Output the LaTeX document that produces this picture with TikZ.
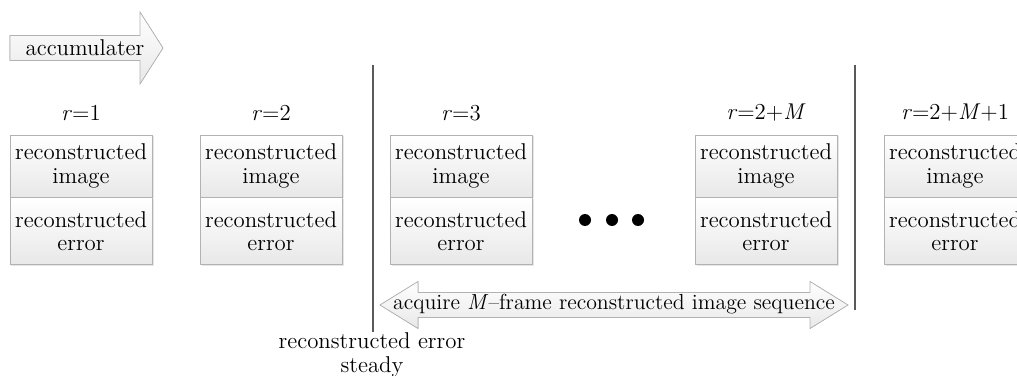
\documentclass[tikz,border=0pt]{standalone}
\usepackage{fontspec}
\usepackage{amsmath}
\usepackage{xcolor}
\usepackage{tikz}
\usetikzlibrary{calc, positioning, shadows}

\tikzset{
  cell/.style={draw=gray!60, top color=white, bottom color=gray!18,
    drop shadow={opacity=0.2, shadow xshift=0.03cm, shadow yshift=-0.03cm},
    minimum width=2.84cm, inner sep=1pt, align=center,
    font=\fontsize{13}{13.5}\selectfont},
  upper/.style={cell, minimum height=1.24cm},
  lower/.style={cell, minimum height=1.34cm},
  rlabel/.style={font=\fontsize{13}{14}\selectfont},
  bigarrow/.style={draw=gray!60, top color=white, bottom color=gray!18},
  txt/.style={font=\fontsize{13}{14}\selectfont, inner sep=0pt, align=center}
}

\begin{document}
\begin{tikzpicture}
\useasboundingbox (0,0) rectangle (20.34,7.5);

% Accumulater arrow
\filldraw[bigarrow] (0.2,6.29) -- (2.8,6.29) -- (2.8,5.82) -- (3.26,6.54)
  -- (2.8,7.26) -- (2.8,6.79) -- (0.2,6.79) -- cycle;
\node[txt] (acc) at (1.7,6.54) {accumulater};

% Step labels
\node[rlabel] (r1) at (1.62,5.24) {\textit{r}=1};
\node[rlabel] (r2) at (5.42,5.24) {\textit{r}=2};
\node[rlabel] (r3) at (9.22,5.24) {\textit{r}=3};
\node[rlabel] (rM) at (15.32,5.24) {\textit{r}=2+\textit{M}};
\node[rlabel] (rM1) at (19.1,5.24) {\textit{r}=2+\textit{M}+1};

% Boxes
\node[upper] (img1) at (1.62,4.18) {reconstructed\\image};
\node[lower, below=0pt of img1] (err1) {reconstructed\\error};
\node[upper] (img2) at (5.42,4.18) {reconstructed\\image};
\node[lower, below=0pt of img2] (err2) {reconstructed\\error};
\node[upper] (img3) at (9.22,4.18) {reconstructed\\image};
\node[lower, below=0pt of img3] (err3) {reconstructed\\error};
\node[upper] (imgM) at (15.32,4.18) {reconstructed\\image};
\node[lower, below=0pt of imgM] (errM) {reconstructed\\error};
\node[upper] (imgM1) at (19.1,4.18) {reconstructed\\image};
\node[lower, below=0pt of imgM1] (errM1) {reconstructed\\error};

% Dots
\fill (11.7,3.1) circle (0.12);
\fill (12.24,3.1) circle (0.12);
\fill (12.76,3.1) circle (0.12);

% Separators
\node[txt] (steady) at (7.44,0.4) {reconstructed error\\steady};
\coordinate (top1) at (7.46,6.2);
\coordinate (top2) at (17.1,6.2);
\coordinate (bot2) at (17.1,1.3);
\draw[gray!70!black, thick] (top1) -- (top1 |- steady.north);
\draw[gray!70!black, thick] (top2) -- (bot2);

% Acquire arrow
\filldraw[bigarrow] (7.6,1.4) -- (8.36,1.87) -- (8.36,1.65) -- (16.2,1.65)
  -- (16.2,1.87) -- (16.96,1.4) -- (16.2,0.93) -- (16.2,1.15)
  -- (8.36,1.15) -- (8.36,0.93) -- cycle;
\node[txt, font=\fontsize{12.4}{14}\selectfont] (acq) at (12.28,1.42)
  {acquire \textit{M}--frame reconstructed image sequence};

\end{tikzpicture}
\end{document}
